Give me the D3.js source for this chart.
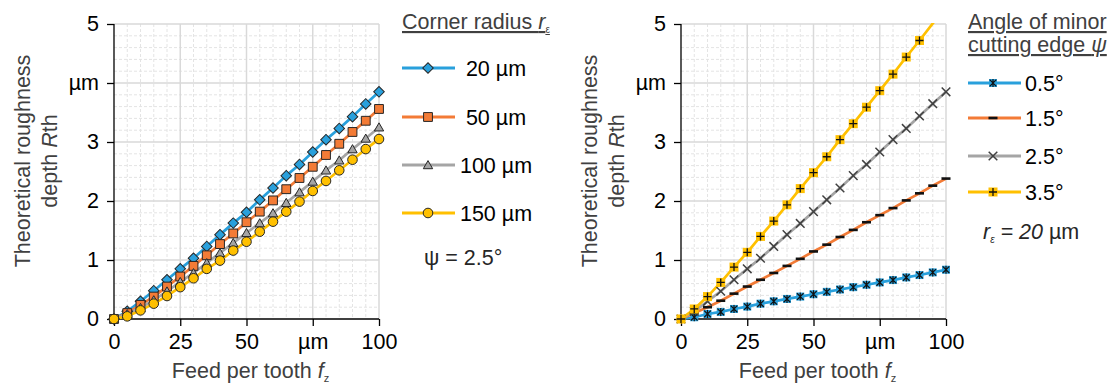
<!DOCTYPE html>
<html>
<head>
<meta charset="utf-8">
<script src="https://cdn.jsdelivr.net/npm/d3@7"></script>
<style>
  body { margin: 0; background: #fff; }
  svg { display: block; font-family: "Liberation Sans", Arial, sans-serif; }
  .minor { stroke: #e4e4e4; stroke-width: 1; stroke-dasharray: 3,2; }
  .major { stroke: #d9d9d9; stroke-width: 1.5; }
</style>
</head>
<body>
<svg id="chart" width="1110" height="385"></svg>
<script>
// feed per tooth, µm
var feed = [0,5,10,15,20,25,30,35,40,45,50,55,60,65,70,75,80,85,90,95,100];

// left chart: corner radius (psi = 2.5°)
var radiusLabels = ["20 µm","50 µm","100 µm","150 µm"];
var rth20  = [0,0.13,0.30,0.48,0.665,0.85,1.03,1.23,1.43,1.625,1.81,2.02,2.22,2.43,2.62,2.83,3.04,3.23,3.43,3.645,3.85];
var rth50  = [0,0.10,0.24,0.38,0.55,0.72,0.90,1.08,1.27,1.45,1.64,1.82,2.01,2.20,2.39,2.58,2.78,2.97,3.17,3.36,3.56];
var rth100 = [0,0.085,0.19,0.32,0.47,0.63,0.78,0.95,1.12,1.29,1.46,1.625,1.795,1.97,2.15,2.33,2.52,2.69,2.88,3.06,3.25];
var rth150 = [0,0.045,0.146,0.26,0.39,0.54,0.69,0.85,0.99,1.16,1.31,1.48,1.65,1.82,1.99,2.17,2.34,2.52,2.70,2.88,3.05];

// right chart: angle of minor cutting edge (r = 20 µm)
var angleLabels = ["0.5°","1.5°","2.5°","3.5°"];
var psi05 = [0,0.03,0.085,0.12,0.17,0.21,0.26,0.30,0.34,0.38,0.42,0.46,0.50,0.54,0.58,0.62,0.66,0.705,0.745,0.79,0.835];
var psi15 = [0,0.10,0.20,0.31,0.43,0.55,0.665,0.78,0.90,1.02,1.145,1.26,1.39,1.51,1.64,1.76,1.88,2.01,2.13,2.26,2.38];
var psi25 = [0,0.13,0.30,0.47,0.665,0.85,1.03,1.23,1.43,1.62,1.82,2.02,2.22,2.43,2.62,2.83,3.04,3.23,3.44,3.65,3.85];
var psi35 = [0,0.17,0.38,0.62,0.88,1.13,1.40,1.66,1.935,2.21,2.48,2.75,3.04,3.31,3.59,3.87,4.15,4.44,4.72,5.01,5.29];

var xTicks = [0,25,50,75,100];
var xTickLabels = ["0","25","50","µm","100"];
var yTicks = [0,1,2,3,4,5];
var yTickLabels = ["0","1","2","3","µm","5"];

var colors = ["#29a0dc","#f37b36","#a5a5a5","#ffc000"];

var svg = d3.select("#chart");
var dark = "#262626";
var fs = 21.5;

// marker drawers
function diamond(g, c) {
  g.append("path").attr("d", d3.symbol(d3.symbolSquare, 56)()).attr("transform","rotate(45)")
    .attr("fill", c).attr("stroke", dark).attr("stroke-width", 1);
}
function square(g, c) {
  g.append("path").attr("d", d3.symbol(d3.symbolSquare, 78)())
    .attr("fill", c).attr("stroke", dark).attr("stroke-width", 1);
}
function triangle(g, c) {
  g.append("path").attr("d", d3.symbol(d3.symbolTriangle, 38)()).attr("transform","translate(0,1)")
    .attr("fill", c).attr("stroke", dark).attr("stroke-width", 1);
}
function circle(g, c) {
  g.append("circle").attr("r", 4.8).attr("fill", c).attr("stroke", dark).attr("stroke-width", 1);
}
function star(g, c) {
  g.append("rect").attr("x",-4).attr("y",-4).attr("width",8).attr("height",8).attr("fill", c);
  g.append("path").attr("d","M-3.3,-3.3L3.3,3.3M-3.3,3.3L3.3,-3.3M0,-4L0,4").attr("stroke","#111").attr("stroke-width",1.2);
}
function dash(g, c) {
  g.append("rect").attr("x",-4.5).attr("y",-1.3).attr("width",9).attr("height",2.6).attr("fill","#111");
}
function cross(g, c) {
  g.append("path").attr("d","M-4.3,-4.3L4.3,4.3M-4.3,4.3L4.3,-4.3").attr("stroke","#404040").attr("stroke-width",1.5);
}
function plus(g, c) {
  g.append("rect").attr("x",-4.5).attr("y",-4.5).attr("width",9).attr("height",9).attr("fill", c);
  g.append("path").attr("d","M-4,0L4,0M0,-4L0,4").attr("stroke","#111").attr("stroke-width",1.3);
}

var panels = [
  { left: 114, right: 379, series: [rth20, rth50, rth100, rth150], marks: [diamond, square, triangle, circle], id: "a" },
  { left: 681, right: 946, series: [psi05, psi15, psi25, psi35], marks: [star, dash, cross, plus], id: "b" }
];

var plotTop = 24, plotBottom = 319;

panels.forEach(function(p) {
  var x = d3.scaleLinear().domain([0,100]).range([p.left, p.right]);
  var y = d3.scaleLinear().domain([0,5]).range([plotBottom, plotTop]);
  var g = svg.append("g");

  // minor grid
  g.selectAll(".mx").data(d3.range(5,100,5).filter(function(v){ return v % 25; }))
    .enter().append("line").attr("class","minor")
    .attr("x1", x).attr("x2", x).attr("y1", plotTop).attr("y2", plotBottom);
  g.selectAll(".my").data(d3.range(1,25).map(function(v){ return v*0.2; }).filter(function(v){ return Math.abs(v - Math.round(v)) > 0.01; }))
    .enter().append("line").attr("class","minor")
    .attr("y1", y).attr("y2", y).attr("x1", p.left).attr("x2", p.right);
  // major grid
  g.selectAll(".gx").data(xTicks.slice(1)).enter().append("line").attr("class","major")
    .attr("x1", x).attr("x2", x).attr("y1", plotTop).attr("y2", plotBottom);
  g.selectAll(".gy").data(yTicks.slice(1)).enter().append("line").attr("class","major")
    .attr("y1", y).attr("y2", y).attr("x1", p.left).attr("x2", p.right);

  // clip for the plot area
  svg.append("clipPath").attr("id","clip-" + p.id).append("rect")
    .attr("x", p.left - 10).attr("y", plotTop - 1).attr("width", p.right - p.left + 20).attr("height", plotBottom - plotTop + 10);

  var line = d3.line().x(function(d){ return x(d[0]); }).y(function(d){ return y(d[1]); });
  var plot = svg.append("g").attr("clip-path","url(#clip-" + p.id + ")");

  p.series.forEach(function(vals, i) {
    var pts = feed.map(function(f, k){ return [f, vals[k]]; });
    plot.append("path").datum(pts).attr("d", line)
      .attr("fill","none").attr("stroke", colors[i]).attr("stroke-width", 2.7).attr("stroke-linejoin","round");
  });

  // axes (drawn under the markers)
  var xAxis = d3.axisBottom(x).tickValues(xTicks).tickSize(7).tickPadding(8)
    .tickFormat(function(d, i){ return xTickLabels[i]; });
  var yAxis = d3.axisLeft(y).tickValues(yTicks).tickSize(7).tickPadding(8)
    .tickFormat(function(d, i){ return yTickLabels[i]; });

  var gx = svg.append("g").attr("transform","translate(0," + plotBottom + ")").call(xAxis);
  var gy = svg.append("g").attr("transform","translate(" + p.left + ",0)").call(yAxis);
  [gx, gy].forEach(function(a) {
    a.select(".domain").attr("stroke","#000").attr("stroke-width",1.3);
    a.selectAll(".tick line").attr("stroke","#000").attr("stroke-width",1.3);
    a.selectAll(".tick text").attr("font-size", fs).attr("fill","#000")
      .attr("font-family",'"Liberation Sans", Arial, sans-serif');
  });
  gx.select(".domain").attr("d","M" + p.left + ",0H" + p.right);
  gy.select(".domain").attr("d","M0," + plotTop + "V" + plotBottom);

  p.series.forEach(function(vals, i) {
    feed.forEach(function(f, k) {
      if (vals[k] > 5) return;
      var m = plot.append("g").attr("transform","translate(" + x(f) + "," + y(vals[k]) + ")");
      p.marks[i](m, colors[i]);
    });
  });
  plot.raise();

  // axis titles
  var xt = svg.append("text").attr("x", (p.left + p.right) / 2 + 4).attr("y", 378)
    .attr("text-anchor","middle").attr("font-size",fs).attr("fill","#404040");
  xt.append("tspan").text("Feed per tooth ");
  xt.append("tspan").attr("font-style","italic").text("f");
  xt.append("tspan").attr("font-size",11).attr("dy",4).text("z");

  var cy = 161;
  var yt = svg.append("g").attr("transform","translate(" + (p.left - 92) + "," + cy + ") rotate(-90)");
  yt.append("text").attr("text-anchor","middle").attr("dy","0.35em").attr("font-size",fs).attr("fill","#404040")
    .text("Theoretical roughness");
  var yt2 = yt.append("text").attr("text-anchor","middle").attr("y",27).attr("dy","0.35em")
    .attr("font-size",fs).attr("fill","#404040");
  yt2.append("tspan").text("depth ");
  yt2.append("tspan").attr("font-style","italic").text("R");
  yt2.append("tspan").text("th");
});

// left legend
var legA = svg.append("g");
var tA = legA.append("text").attr("x",402).attr("y",29).attr("font-size",fs).attr("fill","#404040")
  .attr("text-decoration","underline");
tA.append("tspan").text("Corner radius ");
tA.append("tspan").attr("font-style","italic").text("r");
tA.append("tspan").attr("font-size",10).attr("dy",4).text("ε");
var legAy = [68,117,165,213];
radiusLabels.forEach(function(lab, i) {
  legA.append("line").attr("x1",402).attr("x2",455).attr("y1",legAy[i]).attr("y2",legAy[i])
    .attr("stroke",colors[i]).attr("stroke-width",3);
  var m = legA.append("g").attr("transform","translate(428," + legAy[i] + ")");
  panels[0].marks[i](m, colors[i]);
  legA.append("text").attr("x",496).attr("y",legAy[i]).attr("dy","0.35em").attr("text-anchor","middle")
    .attr("font-size",fs).attr("fill","#000").text(lab);
});
legA.append("text").attr("x",424).attr("y",257).attr("dy","0.35em").attr("font-size",fs).attr("fill","#262626")
  .text("ψ = 2.5°");

// right legend
var legB = svg.append("g");
legB.append("text").attr("x",968).attr("y",29).attr("font-size",fs).attr("fill","#404040")
  .attr("text-decoration","underline").text("Angle of minor");
var tB = legB.append("text").attr("x",968).attr("y",52).attr("font-size",fs).attr("fill","#404040")
  .attr("text-decoration","underline");
tB.append("tspan").text("cutting edge ");
tB.append("tspan").attr("font-style","italic").text("ψ");
var legBy = [83,118,156,192];
angleLabels.forEach(function(lab, i) {
  legB.append("line").attr("x1",968).attr("x2",1021).attr("y1",legBy[i]).attr("y2",legBy[i])
    .attr("stroke",colors[i]).attr("stroke-width",3);
  var m = legB.append("g").attr("transform","translate(993," + legBy[i] + ")");
  panels[1].marks[i](m, colors[i]);
  legB.append("text").attr("x",1025).attr("y",legBy[i]).attr("dy","0.35em")
    .attr("font-size",fs).attr("fill","#000").text(lab);
});
var rB = legB.append("text").attr("x",983).attr("y",231).attr("dy","0.35em").attr("font-size",fs).attr("fill","#262626");
rB.append("tspan").attr("font-style","italic").text("r");
rB.append("tspan").attr("font-size",10).attr("dy",4).attr("font-style","italic").text("ε");
rB.append("tspan").attr("dy",-4).attr("font-style","italic").text(" = 20");
rB.append("tspan").text(" µm");
</script>
</body>
</html>
